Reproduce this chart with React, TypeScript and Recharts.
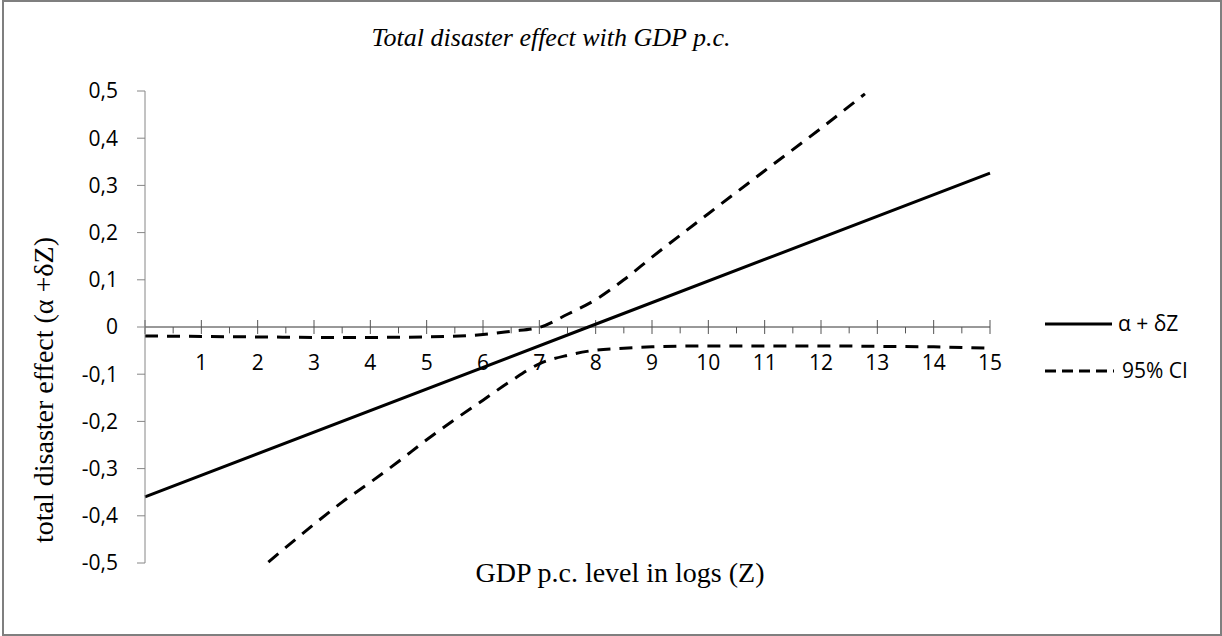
import React from 'react';
import { LineChart, Line, XAxis, YAxis, ReferenceLine } from 'recharts';

// ---- data ----
const yTicks = [-0.5, -0.4, -0.3, -0.2, -0.1, 0, 0.1, 0.2, 0.3, 0.4, 0.5];
const majorX = [0, 1, 2, 3, 4, 5, 6, 7, 8, 9, 10, 11, 12, 13, 14, 15];
const minorX = [0.5, 1.5, 2.5, 3.5, 4.5, 5.5, 6.5, 7.5, 8.5, 9.5, 10.5, 11.5, 12.5, 13.5, 14.5];

const effectX = [0, 7.87, 15];
const effectY = [-0.36, 0.0, 0.326];

const upperX = [0, 1, 2, 3, 4, 5, 6, 6.5, 7, 7.5, 8, 8.5, 9, 10, 11, 12, 12.78];
const upperY = [-0.019, -0.02, -0.021, -0.022, -0.022, -0.021, -0.016, -0.009, -0.001, 0.027, 0.058, 0.1, 0.148, 0.24, 0.331, 0.421, 0.494];

const lowerX = [2.19, 2.5, 3, 3.5, 4, 4.5, 5, 5.5, 6, 6.5, 7, 7.5, 8, 8.5, 9, 10, 11, 12, 13, 14, 15];
const lowerY = [-0.498, -0.467, -0.418, -0.371, -0.329, -0.285, -0.239, -0.196, -0.155, -0.114, -0.078, -0.06, -0.049, -0.045, -0.042, -0.04, -0.04, -0.04, -0.041, -0.042, -0.045];

const legendLabels = ['α + δZ', '95% CI'];
const title = 'Total disaster effect with GDP p.c.';
const xTitle = 'GDP p.c. level in logs (Z)';
const yTitle = 'total disaster effect (α +δZ)';

const zip = (xs: number[], ys: number[]) => xs.map((x, i) => ({ x, y: ys[i] }));
const effectData = zip(effectX, effectY);
const upperData = zip(upperX, upperY);
const lowerData = zip(lowerX, lowerY);

const SANS = '"Open Sans", "Noto Sans", sans-serif';
const SERIF = '"Liberation Serif", "DejaVu Serif", serif';

const fmt = (v: number) => (Math.abs(v) < 1e-9 ? '0' : v.toFixed(1).replace('.', ','));

const YTitle = (props: any) => {
  const vb = props.viewBox || { x: 0, y: 0 };
  const cx = vb.x + 53;
  const cy = vb.y + 299;
  return (
    <text
      x={cx}
      y={cy}
      transform={`rotate(-90, ${cx}, ${cy})`}
      textAnchor="middle"
      fontFamily={SERIF}
      fontSize={28}
      fill="#000"
    >
      {yTitle}
    </text>
  );
};

export default function App() {
  return (
    <div style={{ position: 'absolute', left: 0, top: 0, width: 1222, height: 636, background: '#fff' }}>
      <div
        style={{
          position: 'absolute',
          left: 2,
          top: 0,
          width: 1220,
          height: 636,
          boxSizing: 'border-box',
          border: '2px solid #7f7f7f',
        }}
      />
      <LineChart width={1222} height={636} margin={{ top: 91, right: 232, bottom: 73, left: 0 }}>
        <XAxis dataKey="x" type="number" domain={[0, 15]} hide allowDuplicatedCategory={false} />
        <YAxis
          type="number"
          domain={[-0.5, 0.5]}
          ticks={yTicks}
          interval={0}
          width={145}
          tickFormatter={fmt}
          axisLine={{ stroke: '#868686', strokeWidth: 1 }}
          tickLine={{ stroke: '#868686', strokeWidth: 1 }}
          tickSize={8}
          tickMargin={19}
          tick={{ fill: '#000', fontFamily: SANS, fontSize: 21 }}
          label={<YTitle />}
        />
        <ReferenceLine y={0} stroke="#333" strokeWidth={1} />
        {minorX.map((v) => (
          <ReferenceLine
            key={'m' + v}
            segment={[{ x: v, y: 0 }, { x: v, y: -0.0135 }]}
            stroke="#555"
            strokeWidth={1}
          />
        ))}
        {majorX.map((v) => (
          <ReferenceLine
            key={'M' + v}
            segment={[{ x: v, y: 0.0148 }, { x: v, y: -0.0148 }]}
            stroke="#555"
            strokeWidth={1}
            label={
              v === 0
                ? undefined
                : { value: String(v), position: 'bottom', offset: 21, fill: '#000', fontFamily: SANS, fontSize: 21 }
            }
          />
        ))}
        <Line
          data={effectData}
          dataKey="y"
          type="linear"
          stroke="#000"
          strokeWidth={3}
          dot={false}
          activeDot={false}
          isAnimationActive={false}
        />
        <Line
          data={upperData}
          dataKey="y"
          type="monotone"
          stroke="#000"
          strokeWidth={3}
          strokeDasharray="13 9"
          dot={false}
          activeDot={false}
          isAnimationActive={false}
        />
        <Line
          data={lowerData}
          dataKey="y"
          type="monotone"
          stroke="#000"
          strokeWidth={3}
          strokeDasharray="13 9"
          dot={false}
          activeDot={false}
          isAnimationActive={false}
        />
      </LineChart>
      <div
        style={{
          position: 'absolute',
          left: 0,
          top: 25,
          width: 1102,
          textAlign: 'center',
          fontFamily: SERIF,
          fontStyle: 'italic',
          fontSize: 26,
          lineHeight: '26px',
          color: '#000',
          whiteSpace: 'nowrap',
        }}
      >
        {title}
      </div>
      <div
        style={{
          position: 'absolute',
          left: 320,
          top: 559,
          width: 600,
          textAlign: 'center',
          fontFamily: SERIF,
          fontSize: 28,
          lineHeight: '28px',
          color: '#000',
          whiteSpace: 'nowrap',
        }}
      >
        {xTitle}
      </div>
      <svg style={{ position: 'absolute', left: 1040, top: 300 }} width={180} height={90}>
        <line x1={5} y1={24} x2={72} y2={24} stroke="#000" strokeWidth={3} />
        <text x={78} y={31} fontFamily={SANS} fontSize={21} fill="#000">
          {legendLabels[0]}
        </text>
        <line x1={5} y1={71} x2={74} y2={71} stroke="#000" strokeWidth={3} strokeDasharray="11 6" />
        <text x={82} y={78} fontFamily={SANS} fontSize={21} fill="#000">
          {legendLabels[1]}
        </text>
      </svg>
    </div>
  );
}
